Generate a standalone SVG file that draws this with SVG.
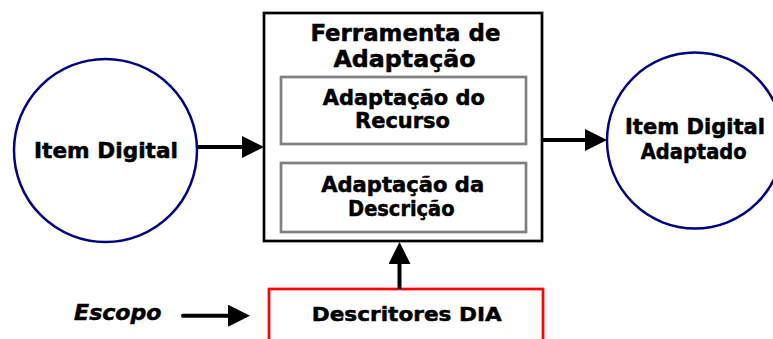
<svg xmlns="http://www.w3.org/2000/svg" width="773" height="339" viewBox="0 0 773 339">
<style>
.t{font-family:"DejaVu Sans","Verdana",sans-serif;font-weight:bold;fill:#000;stroke:#000;stroke-width:0.5;text-anchor:middle}
.circ{fill:#fff;stroke:#000080;stroke-width:2.5}
.conn{stroke:#000;stroke-width:4;fill:none}
</style>
<defs>
<marker id="ah" markerUnits="userSpaceOnUse" markerWidth="22" markerHeight="22" refX="2" refY="11" orient="auto">
<path d="M0,0 L22,11 L0,22 z" fill="#000"/>
</marker>
</defs>
<rect width="773" height="339" fill="#fff"/>
<g id="item-digital">
<circle class="circ" cx="105.5" cy="150.5" r="91.5"/>
<text class="t" x="106" y="157.7" font-size="20.5" textLength="144" lengthAdjust="spacingAndGlyphs">Item Digital</text>
</g>
<g id="ferramenta">
<rect x="264" y="13" width="278" height="228" fill="#fff" stroke="#000" stroke-width="2.7"/>
<text class="t" x="405.4" y="40.7" font-size="23" textLength="190" lengthAdjust="spacingAndGlyphs">Ferramenta de</text>
<text class="t" x="404.5" y="67.3" font-size="23" textLength="142" lengthAdjust="spacingAndGlyphs">Adaptação</text>
</g>
<g id="adaptacao-recurso">
<rect x="281" y="77" width="245" height="67" fill="#fff" stroke="#808080" stroke-width="2.7"/>
<text class="t" x="403.8" y="105" font-size="20.5" textLength="162" lengthAdjust="spacingAndGlyphs">Adaptação do</text>
<text class="t" x="402.5" y="128.3" font-size="20.5" textLength="95" lengthAdjust="spacingAndGlyphs">Recurso</text>
</g>
<g id="adaptacao-descricao">
<rect x="281" y="163" width="245" height="69" fill="#fff" stroke="#808080" stroke-width="2.7"/>
<text class="t" x="402.7" y="192.3" font-size="20.5" textLength="163" lengthAdjust="spacingAndGlyphs">Adaptação da</text>
<text class="t" x="401.3" y="215.7" font-size="20.5" textLength="106.5" lengthAdjust="spacingAndGlyphs">Descrição</text>
</g>
<g id="item-digital-adaptado">
<circle class="circ" cx="695" cy="140.5" r="88"/>
<text class="t" x="695" y="134" font-size="20.5" textLength="140" lengthAdjust="spacingAndGlyphs">Item Digital</text>
<text class="t" x="693.7" y="159" font-size="20.5" textLength="106" lengthAdjust="spacingAndGlyphs">Adaptado</text>
</g>
<g id="descritores-dia">
<rect x="269" y="289" width="274" height="70" fill="#fff" stroke="#ff0000" stroke-width="2.7"/>
<text class="t" x="406.7" y="321" font-size="20" textLength="190" lengthAdjust="spacingAndGlyphs">Descritores DIA</text>
</g>
<g id="escopo">
<text class="t" x="117.8" y="320" font-size="21.5" font-style="italic" textLength="87.5" lengthAdjust="spacingAndGlyphs">Escopo</text>
</g>
<g id="connectors">
<line class="conn" x1="197" y1="147" x2="244" y2="147" marker-end="url(#ah)"/>
<line class="conn" x1="542" y1="140" x2="587" y2="140" marker-end="url(#ah)"/>
<line class="conn" x1="399.5" y1="289" x2="399.5" y2="262" marker-end="url(#ah)"/>
<line class="conn" x1="183" y1="315.7" x2="230" y2="315.7" stroke-linecap="round" marker-end="url(#ah)"/>
</g>
</svg>
